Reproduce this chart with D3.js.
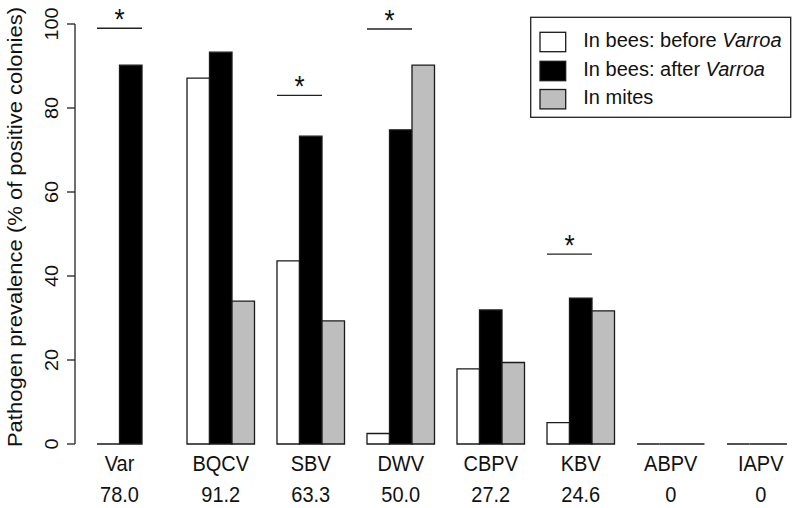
<!DOCTYPE html>
<html><head><meta charset="utf-8">
<script src="https://cdn.jsdelivr.net/npm/d3@7"></script>
<style>body{margin:0;background:#fff}svg{display:block}text{font-family:"Liberation Sans",Arial,Helvetica,sans-serif;fill:#111}</style>
</head><body><svg id="c" width="798" height="508"></svg>
<script>
const categories = ["Var","BQCV","SBV","DWV","CBPV","KBV","ABPV","IAPV"];
const overallPrevalence = ["78.0","91.2","63.3","50.0","27.2","24.6","0","0"];
const beforeVarroa = [0, 87.1, 43.6, 2.5, 17.9, 5.1, 0, 0];
const afterVarroa  = [90.2, 93.3, 73.3, 74.8, 31.9, 34.7, 0, 0];
const inMites      = [null, 34.0, 29.3, 90.2, 19.4, 31.7, 0, 0];
const seriesNames  = ["In bees: before ", "In bees: after ", "In mites"];
const seriesFill   = ["#ffffff", "#000000", "#bebebe"];
const sigCategories = ["Var","SBV","DWV","KBV"];
const sigLevel      = [99, 83, 98.8, 45.2];
const yTicks = [0, 20, 40, 60, 80, 100];

const svg = d3.select("#c");
const x = d3.scaleLinear().domain([0, 32]).range([74.5, 794.5]);
const y = d3.scaleLinear().domain([0, 100]).range([444, 24]);
const series = [beforeVarroa, afterVarroa, inMites];
const vs = 1.1; // vertical stretch of text in reference

svg.append("clipPath").attr("id","plotclip").append("rect")
  .attr("x", 0).attr("y", 0).attr("width", 787).attr("height", 508);

// bars
const gBars = svg.append("g").attr("clip-path","url(#plotclip)");
categories.forEach((c, gi) => {
  series.forEach((s, si) => {
    const v = s[gi];
    if (v === null || v === undefined) return;
    const u0 = gi * 4 + 1 + si;
    const p = d3.path();
    p.rect(x(u0), y(v), x(u0 + 1) - x(u0), y(0) - y(v));
    gBars.append("path").attr("d", p.toString())
      .attr("fill", seriesFill[si]).attr("stroke", "#1a1a1a").attr("stroke-width", 1.3);
  });
});

// y axis
const ax = svg.append("g");
ax.append("line").attr("x1", 75).attr("x2", 75).attr("y1", y(0)).attr("y2", y(100))
  .attr("stroke", "#222").attr("stroke-width", 1.3);
yTicks.forEach(t => {
  ax.append("line").attr("x1", 67).attr("x2", 75).attr("y1", y(t)).attr("y2", y(t))
    .attr("stroke", "#222").attr("stroke-width", 1.3);
  ax.append("text").attr("transform", `translate(58,${y(t)}) rotate(-90) scale(${vs},1)`)
    .attr("text-anchor", "middle").attr("font-size", 18).text(t);
});
svg.append("text").attr("transform", `translate(21.5,227) rotate(-90) scale(${vs},1)`)
  .attr("text-anchor", "middle").attr("font-size", 20)
  .text("Pathogen prevalence (% of positive colonies)");

// category labels
categories.forEach((c, gi) => {
  const center = (c === "Var") ? gi * 4 + 2 : gi * 4 + 2.5;
  svg.append("text").attr("transform", `translate(${x(center)},471.3) scale(1,${vs})`)
    .attr("text-anchor", "middle").attr("font-size", 20).text(c);
  svg.append("text").attr("transform", `translate(${x(center)},502.3) scale(1,${vs})`)
    .attr("text-anchor", "middle").attr("font-size", 20).text(overallPrevalence[gi]);
});

// significance
sigCategories.forEach((c, i) => {
  const gi = categories.indexOf(c);
  const u0 = gi * 4 + 1, u1 = gi * 4 + 3;
  const ly = y(sigLevel[i]);
  svg.append("line").attr("x1", x(u0)).attr("x2", x(u1)).attr("y1", ly).attr("y2", ly)
    .attr("stroke", "#222").attr("stroke-width", 1.4);
  svg.append("text").attr("transform", `translate(${x((u0+u1)/2)},${ly + 1}) scale(1,${vs})`)
    .attr("text-anchor", "middle").attr("font-size", 26).attr("fill", "#333").text("*");
});

// legend
const lg = svg.append("g");
lg.append("rect").attr("x", 530.7).attr("y", 17.3).attr("width", 260).attr("height", 100)
  .attr("fill", "#fff").attr("stroke", "#222").attr("stroke-width", 1.3);
const rowY = [42, 71, 99.2];
seriesNames.forEach((n, i) => {
  lg.append("rect").attr("x", 540).attr("y", rowY[i] - 9.7).attr("width", 25.7).attr("height", 19.4)
    .attr("fill", seriesFill[i]).attr("stroke", "#1a1a1a").attr("stroke-width", 1.3);
  const t = lg.append("text").attr("transform", `translate(583.3,${rowY[i] + 5}) scale(1,1.0)`)
    .attr("font-size", 20);
  t.append("tspan").text(n);
  if (i < 2) t.append("tspan").attr("font-style", "italic").text("Varroa");
});
</script></body></html>
